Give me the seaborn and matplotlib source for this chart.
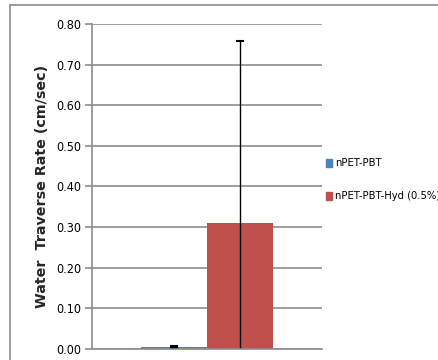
import matplotlib
import numpy as np
import pandas as pd
import seaborn as sns

matplotlib.use('Agg')
import matplotlib.pyplot as plt
from matplotlib.lines import Line2D

# data
samples = ["nPET-PBT", "nPET-PBT-Hyd (0.5%)"]
rates = [0.005, 0.310]
errors = [0.002, 0.447]
colors = ["#4F81BD", "#C0504D"]
yticks = [0.0, 0.1, 0.2, 0.3, 0.4, 0.5, 0.6, 0.7, 0.8]

df = pd.DataFrame({"group": [""] * len(samples), "sample": samples, "rate": rates})

sns.set_style("white")
plt.rcParams['font.family'] = ['DejaVu Sans']
plt.rcParams['font.stretch'] = 'condensed'
plt.rcParams['text.color'] = 'black'
plt.rcParams['ytick.color'] = 'black'

fig = plt.figure(figsize=(4.39, 3.6), dpi=100)
ax = fig.add_axes([0.2096, 0.0306, 0.5239, 0.9027])

sns.barplot(data=df, x="group", y="rate", hue="sample", palette=colors,
            width=0.57, errorbar=None, ax=ax, legend=False, saturation=1,
            linewidth=0)

for patch, err in zip(ax.patches, errors):
    cx = patch.get_x() + patch.get_width() / 2
    ax.errorbar(cx, patch.get_height(), yerr=err, color="black", lw=1,
                capsize=3, capthick=1.5)

ax.set_ylim(0, 0.8)
ax.set_xlim(-0.5, 0.5)
ax.set_yticks(yticks)
ax.set_yticklabels([f"{v:.2f}" for v in yticks], fontsize=9)
ax.set_xticks([])
ax.set_xlabel("")
ax.set_ylabel("Water  Traverse Rate (cm/sec)", fontsize=10.3, fontweight="bold",
              fontstretch="normal", labelpad=5)
ax.yaxis.grid(True, color="#8c8c8c", lw=1.2)
ax.set_axisbelow(True)
for s in ["top", "right"]:
    ax.spines[s].set_visible(False)
for s in ["left", "bottom"]:
    ax.spines[s].set_color("#8c8c8c")
    ax.spines[s].set_linewidth(1.2)
ax.tick_params(axis="y", left=True, length=5, color="#8c8c8c", width=1.2, pad=3)

# legend
for i, (lab, col) in enumerate(zip(samples, colors)):
    yy = 1 - (163 + 33 * i) / 360
    fig.patches.append(plt.Rectangle((326 / 439, yy - 0.012), 6 / 439, 8 / 360,
                                     transform=fig.transFigure, color=col))
    fig.text(335 / 439, yy, lab, fontsize=8, va="center", ha="left")

# outer chart border
fig.add_artist(Line2D([10 / 439, 1], [1 - 5 / 360] * 2, color="#8c8c8c", lw=1.2))
fig.add_artist(Line2D([10 / 439] * 2, [0, 1 - 5 / 360], color="#8c8c8c", lw=1.2))

fig.savefig("out.png", dpi=100)
